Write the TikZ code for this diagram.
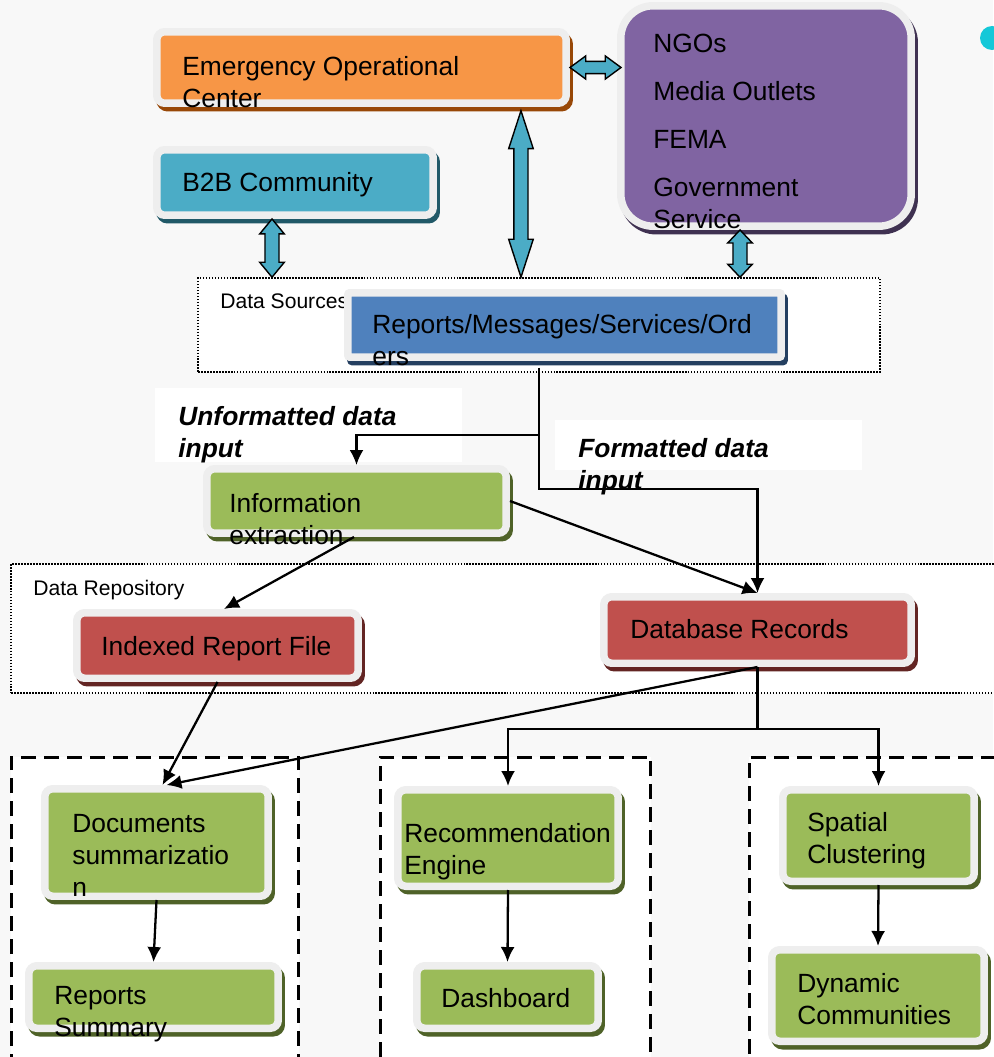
\documentclass[tikz,border=0pt]{standalone}
\usepackage{fontspec}
\setmainfont{Liberation Sans}
\usetikzlibrary{arrows.meta, calc, positioning}

\definecolor{rim}{HTML}{EEEEEE}
\definecolor{bgpat}{HTML}{F8F8F8}
\definecolor{eocfill}{HTML}{F79646}
\definecolor{eocshade}{HTML}{984807}
\definecolor{tealfill}{HTML}{4BACC6}
\definecolor{tealshade}{HTML}{215968}
\definecolor{purplefill}{HTML}{8064A2}
\definecolor{purpleshade}{HTML}{3F3151}
\definecolor{bluefill}{HTML}{4F81BD}
\definecolor{blueshade}{HTML}{243F60}
\definecolor{greenfill}{HTML}{9BBB59}
\definecolor{greenshade}{HTML}{4F6228}
\definecolor{redfill}{HTML}{C0504D}
\definecolor{redshade}{HTML}{632523}
\definecolor{arrcyan}{HTML}{4BACC6}
\definecolor{dotcyan}{HTML}{14C8D8}

% two-headed block arrows (x resp. y taken from the first point)
\newcommand\vdbl[3]{%
  \draw[blockarr] let \p1=#1, \p2=#2 in
    (\x1,\y1) -- (\x1+7pt,\y1-#3) -- (\x1+4pt,\y1-#3) -- (\x1+4pt,\y2+#3)
    -- (\x1+7pt,\y2+#3) -- (\x1,\y2) -- (\x1-7pt,\y2+#3) -- (\x1-4pt,\y2+#3)
    -- (\x1-4pt,\y1-#3) -- (\x1-7pt,\y1-#3) -- cycle;}
\newcommand\hdbl[3]{%
  \draw[blockarr] let \p1=#1, \p2=#2 in
    (\x1,\y1) -- (\x1+#3,\y1+6.6pt) -- (\x1+#3,\y1+3.5pt) -- (\x2-#3,\y1+3.5pt)
    -- (\x2-#3,\y1+6.6pt) -- (\x2,\y1) -- (\x2-#3,\y1-6.6pt) -- (\x2-#3,\y1-3.5pt)
    -- (\x1+#3,\y1-3.5pt) -- (\x1+#3,\y1-6.6pt) -- cycle;}

\tikzset{
  blk/.style 2 args={rectangle, rounded corners=1.6mm, draw=rim, line width=1.5mm,
    fill=#1, inner sep=0pt,
    preaction={fill=#2, draw=#2, transform canvas={shift={(0.6mm,-0.9mm)}}}},
  txt/.style={anchor=north west, inner sep=0pt, align=left, font=\fontsize{15}{18.2}\selectfont},
  lbl/.style={txt, font=\fontsize{15}{18.2}\selectfont\bfseries\itshape},
  small/.style={anchor=north west, inner sep=0pt, font=\fontsize{12}{14}\selectfont},
  grpdot/.style={draw, fill=white, line width=0.9pt, dash pattern=on 0.9pt off 0.8pt, inner sep=0pt},
  grpdash/.style={draw, fill=white, line width=1.7pt, dash pattern=on 0.3cm off 0.16cm, inner sep=0pt},
  conn/.style={line width=1.3pt, -{Latex[length=0.3cm, width=0.28cm]}},
  link/.style={line width=1.3pt},
  blockarr/.style={fill=arrcyan, draw=black, line width=0.8pt},
}

\begin{document}
\begin{tikzpicture}[x=0.02cm, y=-0.02cm]
  \useasboundingbox (0,0) rectangle (993,1057);
  \fill[bgpat] (0,0) rectangle (993,1057);
  \node[circle, fill=dotcyan, minimum size=0.48cm, inner sep=0pt] (bullet) at (992,38) {};

  % group frames
  \node[grpdot, minimum width=13.64cm, minimum height=1.88cm] (src) at (539,325) {};
  \node[grpdot, minimum width=19.98cm, minimum height=2.58cm] (repo) at (510.5,628.5) {};
  \node[grpdash, minimum width=5.76cm, minimum height=6.46cm] (grpdoc) at (155,918.5) {};
  \node[grpdash, minimum width=5.42cm, minimum height=6.46cm] (grprec) at (515.5,918.5) {};
  \node[grpdash, minimum width=5.22cm, minimum height=6.46cm] (grpspa) at (879.5,918.5) {};

  % white patches behind the edge labels
  \fill[white] (155,388) rectangle (462,462);
  \fill[white] (555,420) rectangle (862,470);

  \node[small] (srclbl) at (220,293.6) {Data Sources};
  \node[small] (repolbl) at (33,579.6) {Data Repository};

  % boxes
  \node[blk={eocfill}{eocshade}, minimum width=8.19cm, minimum height=1.43cm] (eoc) at (361.5,67.5) {};
  \node[blk={tealfill}{tealshade}, minimum width=5.53cm, minimum height=1.31cm] (b2b) at (295,182.5) {};
  \node[blk={purplefill}{purpleshade}, rounded corners=6.5mm, minimum width=5.81cm, minimum height=4.41cm] (ngo) at (766,116) {};
  \node[blk={bluefill}{blueshade}, rounded corners=0.4mm, minimum width=8.67cm, minimum height=1.29cm] (rep) at (564.5,325) {};
  \node[blk={greenfill}{greenshade}, minimum width=5.99cm, minimum height=1.29cm] (info) at (356.5,501) {};
  \node[blk={redfill}{redshade}, minimum width=5.63cm, minimum height=1.31cm] (idx) at (217.5,645.5) {};
  \node[blk={redfill}{redshade}, minimum width=6.15cm, minimum height=1.33cm] (db) at (757.5,630) {};
  \node[blk={greenfill}{greenshade}, minimum width=4.47cm, minimum height=2.15cm] (docs) at (156.5,842.5) {};
  \node[blk={greenfill}{greenshade}, minimum width=4.99cm, minimum height=1.25cm] (rsum) at (153.5,997) {};
  \node[blk={greenfill}{greenshade}, minimum width=4.41cm, minimum height=1.93cm] (rec) at (508,838) {};
  \node[blk={greenfill}{greenshade}, minimum width=3.63cm, minimum height=1.25cm] (dboard) at (507.5,997) {};
  \node[blk={greenfill}{greenshade}, minimum width=3.83cm, minimum height=1.83cm] (spat) at (878.5,835.5) {};
  \node[blk={greenfill}{greenshade}, minimum width=4.25cm, minimum height=1.83cm] (dyn) at (878,995.5) {};

  % block arrows
  \hdbl{(eoc.east)}{([xshift=0.08cm]ngo.west)}{9pt}
  \vdbl{([xshift=3.19cm,yshift=-0.075cm]eoc.south)}{(src.north)}{21.6pt}
  \vdbl{([xshift=-0.46cm]b2b.south)}{(src.north)}{8.5pt}
  \vdbl{([xshift=-0.52cm]ngo.south)}{(src.north)}{7.4pt}

  % data flow
  \coordinate (repout) at ([xshift=-0.51cm,yshift=-0.14cm]rep.south);
  \draw[conn] (repout) -- ++(0,67) -| (info.north);
  \draw[conn] (repout) -- ++(0,121) -| (db.north);
  \draw[conn] ([xshift=-0.05cm]info.south) -- ([xshift=0.13cm]idx.north);
  \draw[conn] (info.east) -- (db.north);
  \draw[conn] (idx.south) -- ([xshift=0.12cm]docs.north);
  \draw[conn] (db.south) -- ([xshift=0.2cm]docs.north);
  \draw[link] (db.south) -- ++(0,62) coordinate (dbsplit);
  \draw[conn] (dbsplit) -| (rec.north);
  \draw[conn] (dbsplit) -| (spat.north);
  \draw[conn] (docs.south) -- (rsum.north);
  \draw[conn] (rec.south) -- (dboard.north);
  \draw[conn] (spat.south) -- (dyn.north);

  % texts
  \node[txt] (eoctxt) at (182,56) {Emergency Operational\\Center};
  \node[txt] (b2btxt) at (182,172) {B2B Community};
  \node[txt] (ngotxt) at (653,34) {NGOs\\[0.32cm]Media Outlets\\[0.32cm]FEMA\\[0.32cm]Government\\Service};
  \node[txt] (reptxt) at (372,314) {Reports/Messages/Services/Ord\\ers};
  \node[lbl] (unflbl) at (178,406) {Unformatted data\\input};
  \node[lbl] (fmtlbl) at (578,438) {Formatted data\\input};
  \node[txt] (infotxt) at (229,493) {Information\\extraction};
  \node[txt] (idxtxt) at (101,636) {Indexed Report File};
  \node[txt] (dbtxt) at (630,619) {Database Records};
  \node[txt] (docstxt) at (72,814) {Documents\\summarizatio\\n};
  \node[txt] (rsumtxt) at (54,986) {Reports\\Summary};
  \node[txt] (rectxt) at (404,823) {Recommendation\\Engine};
  \node[txt] (dboardtxt) at (441,988) {Dashboard};
  \node[txt] (spattxt) at (807,812) {Spatial\\Clustering};
  \node[txt] (dyntxt) at (797,973) {Dynamic\\Communities};
\end{tikzpicture}
\end{document}
